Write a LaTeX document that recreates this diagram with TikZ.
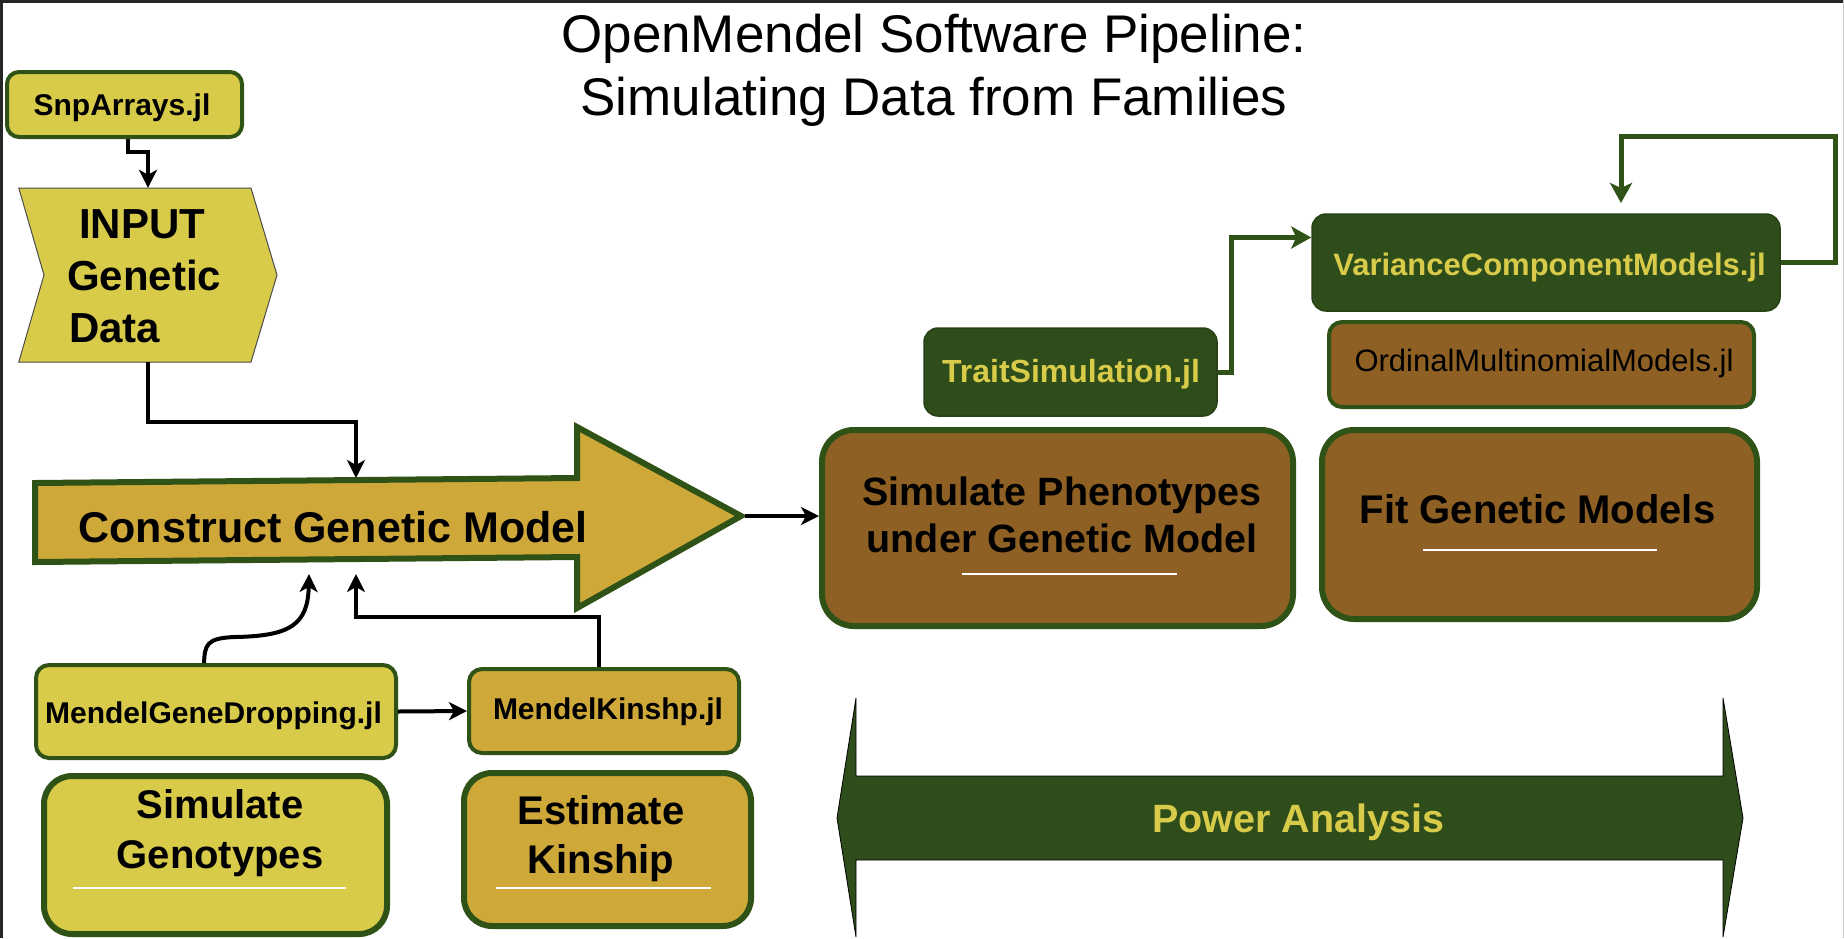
\documentclass[tikz,border=0pt]{standalone}
\usepackage{fontspec}
\setmainfont{Liberation Sans}
\usetikzlibrary{arrows.meta}
\definecolor{yel}{HTML}{D9CB4A}
\definecolor{gold}{HTML}{CFA83A}
\definecolor{brn}{HTML}{8F6023}
\definecolor{dgrn}{HTML}{2E4D1A}
\definecolor{bgrn}{HTML}{2F5217}
\newcommand{\fsz}[1]{\fontsize{#1}{#1}\selectfont}
\begin{document}
\begin{tikzpicture}[x=1pt,y=-1pt,
  box/.style={draw=bgrn, line width=4pt, rounded corners=13pt, inner sep=0pt},
  bigbox/.style={draw=bgrn, line width=6pt, rounded corners=28pt, inner sep=0pt},
  gbox/.style={draw=dgrn!85!black, fill=dgrn, line width=1.5pt, rounded corners=14pt, inner sep=0pt},
  lbl/.style={inner sep=0pt, anchor=base},
  lblw/.style={inner sep=0pt, anchor=base west},
  uline/.style={draw=white, line width=2.5pt},
  blk/.style={draw=black, line width=4pt, -{Stealth[length=18pt,width=18pt,inset=5pt]}},
  garr/.style={draw=bgrn, line width=5pt, -{Stealth[length=20pt,width=22pt,inset=5pt]}}
]
\fill[white] (0,0) rectangle (1844,938);
\useasboundingbox (0,0) rectangle (1844,938);
\draw[line width=3pt, black!85] (0,1.5) -- (1844,1.5);
\draw[line width=3pt, black!85] (1.5,0) -- (1.5,938);
\draw[line width=1pt, black!20] (1843,0) -- (1843,938);

% title
\node[lbl, font=\fsz{53}] (title1) at (934,52) {OpenMendel Software Pipeline:};
\node[lbl, font=\fsz{53}] (title2) at (934,115) {Simulating Data from Families};

% SnpArrays
\node[box, fill=yel, minimum width=235pt, minimum height=65pt, rounded corners=12pt] (snp) at (124.5,104.5) {};
\node[lbl, font=\fsz{30}\bfseries] (snpt) at (122,115) {SnpArrays.jl};

% INPUT chevron
\draw[draw=black!70, line width=1pt, fill=yel] (18.8,188) -- (251,188) -- (277,275) -- (251,362) -- (18.8,362) -- (44,275) -- cycle;
\node[minimum width=258pt, minimum height=174pt, inner sep=0pt] (input) at (148,275) {};
\node[lblw, font=\fsz{42}\bfseries] (in1) at (79,238) {INPUT};
\node[lblw, font=\fsz{42}\bfseries] (in2) at (67,290) {Genetic};
\node[lblw, font=\fsz{42}\bfseries] (in3) at (69,342) {Data};

% Construct Genetic Model arrow
\draw[draw=bgrn, line width=6pt, fill=gold, line join=miter] (35,483) -- (577,478) -- (577,427) -- (741,516) -- (577,608) -- (577,557) -- (35,562) -- cycle;
\node[lbl, font=\fsz{43}\bfseries] (cgm) at (333,542) {Construct Genetic Model};
\coordinate (cgmin) at (356,478);
\coordinate (cgmtip) at (745,516);
\coordinate (wavytip) at (309,574);
\coordinate (kintip) at (356,574);

% lower-left boxes
\node[box, fill=yel, minimum width=360pt, minimum height=93pt] (gene) at (216,711.5) {};
\node[lbl, font=\fsz{30}\bfseries] (genet) at (213.5,723) {MendelGeneDropping.jl};
\node[box, fill=gold, minimum width=270pt, minimum height=84pt] (kin) at (604,711) {};
\node[lbl, font=\fsz{30}\bfseries] (kint) at (608,719) {MendelKinshp.jl};

\node[bigbox, fill=yel, minimum width=343pt, minimum height=158pt] (simgeno) at (215.5,855) {};
\node[lbl, font=\fsz{40}\bfseries] (sg1) at (220,818) {Simulate};
\node[lbl, font=\fsz{40}\bfseries] (sg2) at (220,868) {Genotypes};
\draw[uline] (73,888) -- (346,888);

\node[bigbox, fill=gold, minimum width=287pt, minimum height=153pt] (estkin) at (607.5,849.5) {};
\node[lbl, font=\fsz{40}\bfseries] (ek1) at (601,824) {Estimate};
\node[lbl, font=\fsz{40}\bfseries] (ek2) at (601,873) {Kinship};
\draw[uline] (496,888) -- (711,888);

% right side boxes
\node[bigbox, fill=brn, minimum width=471pt, minimum height=196pt, rounded corners=32pt] (simpheno) at (1057.5,528) {};
\node[lbl, font=\fsz{39.5}\bfseries] (sp1) at (1062,505) {Simulate Phenotypes};
\node[lbl, font=\fsz{39.5}\bfseries] (sp2) at (1062,552) {under Genetic Model};
\draw[uline] (962,574) -- (1177,574);

\node[bigbox, fill=brn, minimum width=435pt, minimum height=189pt, rounded corners=32pt] (fit) at (1539.5,524.5) {};
\node[lbl, font=\fsz{40}\bfseries] (fitt) at (1537.5,523) {Fit Genetic Models};
\draw[uline] (1423,550) -- (1657,550);

\node[gbox, minimum width=293pt, minimum height=88pt] (trait) at (1070.5,372) {};
\node[lbl, font=\fsz{32}\bfseries, text=yel] (traitt) at (1071,382) {TraitSimulation.jl};

\node[gbox, minimum width=468pt, minimum height=97pt] (vcm) at (1546,262.5) {};
\node[lbl, font=\fsz{31}\bfseries, text=yel] (vcmt) at (1549.5,275) {VarianceComponentModels.jl};

\node[box, fill=brn, minimum width=425pt, minimum height=85pt] (ord) at (1541.5,364.5) {};
\node[lbl, font=\fsz{31}] (ordt) at (1544,371) {OrdinalMultinomialModels.jl};

% Power analysis double arrow
\draw[draw=black, line width=0.8pt, fill=dgrn] (837,818) -- (856,698) -- (856,776) -- (1723,776) -- (1723,698) -- (1743,818) -- (1723,937) -- (1723,860) -- (856,860) -- (856,937) -- cycle;
\node[lbl, font=\fsz{39.5}\bfseries, text=yel] (power) at (1298,832) {Power Analysis};

% connectors
\draw[blk, line width=3.5pt] ([xshift=3.5pt]snp.south) -- ++(0,13) -| (input.north);
\draw[blk] (input.south) -- ++(0,60) -| (cgmin);
\draw[blk] (cgmtip) -- (cgmtip -| simpheno.west);
\draw[blk] (gene.east) -- (kin.west);
\draw[blk] ([xshift=-12pt]gene.north) .. controls (205,645) and (206,638) .. (235,637) .. controls (290,636) and (308,625) .. (wavytip);
\draw[blk] ([xshift=-5pt]kin.north) -- ++(0,-50) -| (kintip);

\coordinate (loopc) at (1835,136);
\coordinate (loopt) at (1621,203);
\draw[garr] (trait.east) -- ++(14,0) |- ([yshift=25pt]vcm.west);
\draw[garr] (vcm.east) -| (loopc) -| (loopt);
\end{tikzpicture}
\end{document}
